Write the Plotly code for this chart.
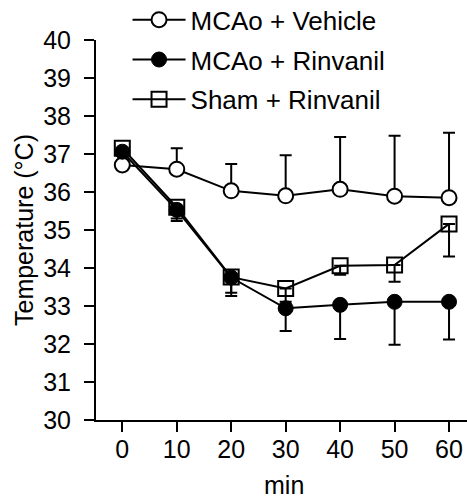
import plotly.graph_objects as go

minutes = [0, 10, 20, 30, 40, 50, 60]

veh_mean = [36.71, 36.60, 36.03, 35.90, 36.07, 35.89, 35.85]
veh_err_up = [0.0, 0.55, 0.71, 1.07, 1.38, 1.59, 1.71]

rin_mean = [37.06, 35.53, 33.75, 32.94, 33.03, 33.11, 33.11]
rin_err_down = [0.0, 0.29, 0.49, 0.60, 0.90, 1.13, 0.99]

sham_mean = [37.15, 35.60, 33.76, 33.46, 34.06, 34.08, 35.16]
sham_err_down = [0.0, 0.30, 0.41, 0.35, 0.24, 0.44, 0.86]

labels = ["MCAo + Vehicle", "MCAo + Rinvanil", "Sham + Rinvanil"]
x_title = "min"
y_title = "Temperature (°C)"
font_family = "Liberation Sans, Arial, sans-serif"

fig = go.Figure()

fig.add_trace(go.Scatter(
    x=minutes, y=sham_mean, name=labels[2], mode="lines+markers",
    legendrank=3, legendgroup="c",
    line=dict(color="black", width=2),
    marker=dict(symbol="square-open", size=15, color="black", line=dict(width=2)),
    error_y=dict(type="data", symmetric=False, array=[0]*7, arrayminus=sham_err_down,
                 color="black", thickness=2, width=6),
))
fig.add_trace(go.Scatter(
    x=minutes, y=veh_mean, name=labels[0], mode="lines+markers",
    legendrank=1, legendgroup="a",
    line=dict(color="black", width=2),
    marker=dict(symbol="circle", size=15, color="white", line=dict(color="black", width=2)),
    error_y=dict(type="data", symmetric=False, array=veh_err_up, arrayminus=[0]*7,
                 color="black", thickness=2, width=6),
))
fig.add_trace(go.Scatter(
    x=minutes, y=rin_mean, name=labels[1], mode="lines+markers",
    legendrank=2, legendgroup="b",
    line=dict(color="black", width=2),
    marker=dict(symbol="circle", size=15, color="black", line=dict(color="black", width=1)),
    error_y=dict(type="data", symmetric=False, array=[0]*7, arrayminus=rin_err_down,
                 color="black", thickness=2, width=6),
))

fig.update_layout(
    width=467, height=500,
    margin=dict(l=96, r=0, t=40, b=80, autoexpand=False),
    paper_bgcolor="white", plot_bgcolor="white",
    font=dict(family=font_family, size=25, color="black"),
    showlegend=True,
    legend=dict(x=0.085, y=1.115, xanchor="left", yanchor="top",
                bgcolor="rgba(0,0,0,0)", font=dict(size=26),
                tracegroupgap=3, itemwidth=53),
    xaxis=dict(
        range=[-4.83, 63.3], tickvals=minutes, ticktext=[str(m) for m in minutes],
        showline=True, linecolor="black", linewidth=2,
        ticks="outside", ticklen=10, tickwidth=2, tickcolor="black",
        showgrid=False, zeroline=False, ticklabelstandoff=-4, automargin=False,
    ),
    yaxis=dict(
        range=[30, 40], tickvals=list(range(30, 41)),
        showline=True, linecolor="black", linewidth=2,
        ticks="outside", ticklen=10, tickwidth=2, tickcolor="black",
        showgrid=False, zeroline=False, ticklabelstandoff=8, automargin=False,
    ),
    annotations=[
        dict(text=x_title, xref="paper", yref="paper", x=0.508, y=-0.172,
             xanchor="center", yanchor="middle", showarrow=False,
             font=dict(size=25)),
        dict(text=y_title, xref="paper", yref="paper", x=-0.194, y=0.5,
             xanchor="center", yanchor="middle", showarrow=False, textangle=-90,
             font=dict(size=25)),
    ],
)

fig.write_html("out.html")
